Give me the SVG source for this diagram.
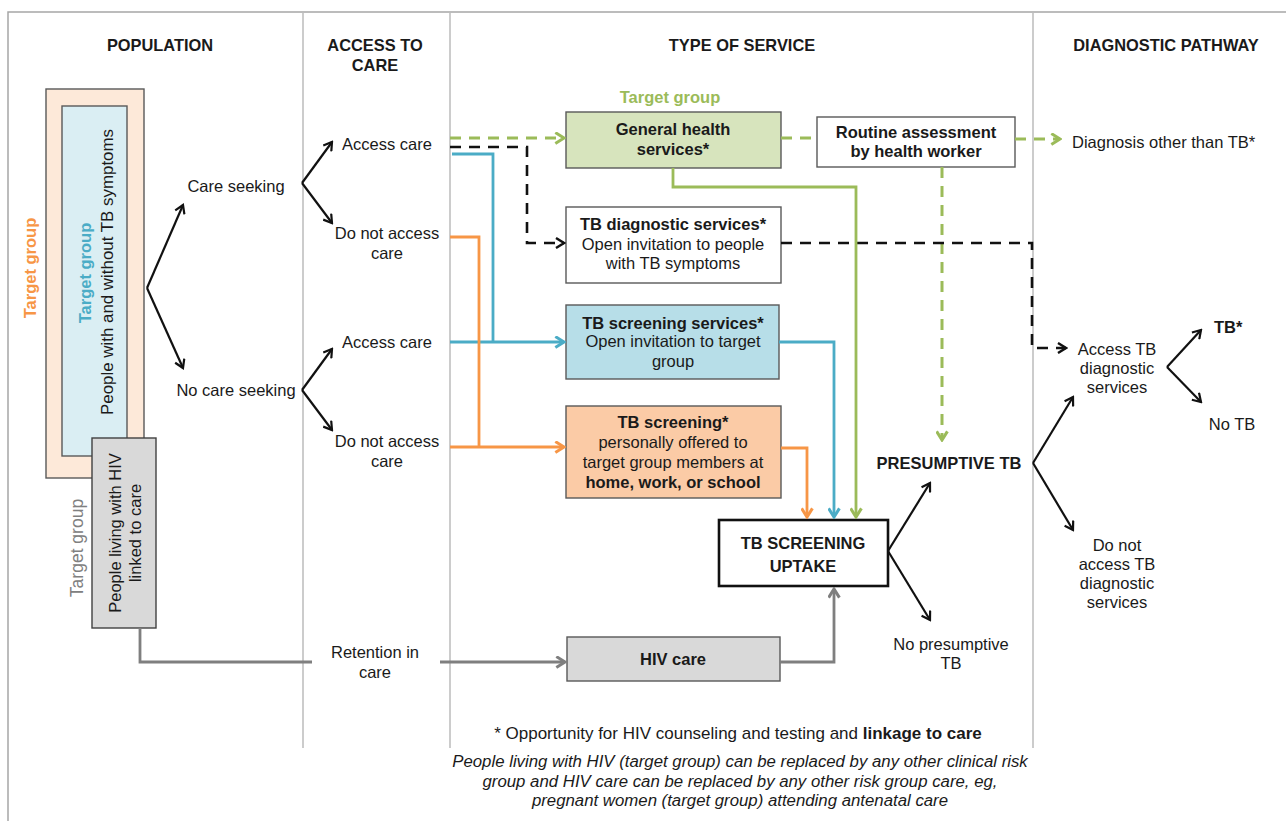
<svg xmlns="http://www.w3.org/2000/svg" width="1286" height="821" viewBox="0 0 1286 821">
<style>
text{font-family:"Liberation Sans",Arial,sans-serif;fill:#1a1a1a;font-size:16.5px}
.h{font-weight:bold;font-size:16.4px}
.c{text-anchor:middle}
.b{font-weight:bold}
.box{stroke:#595959;stroke-width:1.4}
.frame{fill:none;stroke:#a6a6a6;stroke-width:1.5}
.div{stroke:#cccccc;stroke-width:2;fill:none}
.k{fill:none;stroke:#111;stroke-width:2.2;marker-end:url(#mk)}
.kd{fill:none;stroke:#111;stroke-width:2.6;stroke-dasharray:11 8;marker-end:url(#mkd)}
.gd{fill:none;stroke:#9bbb59;stroke-width:3;stroke-dasharray:11 8}
.gs{fill:none;stroke:#9bbb59;stroke-width:2.8}
.bl{fill:none;stroke:#4bacc6;stroke-width:2.8}
.or{fill:none;stroke:#f79646;stroke-width:2.8}
.gy{fill:none;stroke:#7f7f7f;stroke-width:2.8}
.foot{font-size:17px}
.it{font-style:italic;font-size:16.8px}
</style>
<defs>
<marker id="mk" viewBox="0 0 12 12" refX="10" refY="6" markerWidth="12" markerHeight="12" orient="auto" markerUnits="userSpaceOnUse"><path d="M2,1 L10,6 L2,11" fill="none" stroke="#111" stroke-width="2.2"/></marker>
<marker id="mkd" viewBox="0 0 12 12" refX="10" refY="6" markerWidth="12" markerHeight="12" orient="auto" markerUnits="userSpaceOnUse"><path d="M2,1 L10,6 L2,11" fill="none" stroke="#111" stroke-width="2.4"/></marker>
<marker id="mg" viewBox="0 0 12 12" refX="10" refY="6" markerWidth="13" markerHeight="13" orient="auto" markerUnits="userSpaceOnUse"><path d="M2,1 L10,6 L2,11" fill="none" stroke="#9bbb59" stroke-width="2.8"/></marker>
<marker id="mb" viewBox="0 0 12 12" refX="10" refY="6" markerWidth="13" markerHeight="13" orient="auto" markerUnits="userSpaceOnUse"><path d="M2,1 L10,6 L2,11" fill="none" stroke="#4bacc6" stroke-width="2.8"/></marker>
<marker id="mo" viewBox="0 0 12 12" refX="10" refY="6" markerWidth="13" markerHeight="13" orient="auto" markerUnits="userSpaceOnUse"><path d="M2,1 L10,6 L2,11" fill="none" stroke="#f79646" stroke-width="2.8"/></marker>
<marker id="my" viewBox="0 0 12 12" refX="10" refY="6" markerWidth="13" markerHeight="13" orient="auto" markerUnits="userSpaceOnUse"><path d="M2,1 L10,6 L2,11" fill="none" stroke="#7f7f7f" stroke-width="2.8"/></marker>
</defs>
<rect width="1286" height="821" fill="#ffffff"/>
<g id="frame">
<path class="frame" d="M8,821 V12 H1286"/>
<path class="div" d="M303,13 V748 M450,13 V748 M1033,13 V748"/>
</g>
<g id="headers">
<text class="h c" x="160" y="51">POPULATION</text>
<text class="h c" x="375" y="51">ACCESS TO</text>
<text class="h c" x="375" y="71">CARE</text>
<text class="h c" x="742" y="51">TYPE OF SERVICE</text>
<text class="h c" x="1166" y="51">DIAGNOSTIC PATHWAY</text>
</g>
<g id="population-orange">
<rect x="46" y="89" width="98" height="389" fill="#fde9d9" class="box" stroke="#7f7f7f"/>
<text class="b c" x="36" y="268" style="fill:#f79646;font-size:16.5px" transform="rotate(-90 36 268)">Target group</text>
</g>
<g id="population-blue">
<rect x="62" y="106" width="65" height="350" fill="#daeef3" class="box"/>
<text class="b c" x="91" y="273" style="fill:#4bacc6;font-size:16.5px" transform="rotate(-90 91 273)">Target group</text>
<text class="c" x="113" y="272" style="font-size:16.9px" transform="rotate(-90 113 272)">People with and without TB symptoms</text>
</g>
<g id="population-hiv">
<rect x="92" y="438" width="64" height="190" fill="#d9d9d9" stroke="#404040" stroke-width="1.4"/>
<text class="c" x="121" y="533" style="font-size:16.5px" transform="rotate(-90 121 533)">People living with HIV</text>
<text class="c" x="141" y="533" style="font-size:16.5px" transform="rotate(-90 141 533)">linked to care</text>
<text class="c" x="83" y="548" style="fill:#808080;font-size:17.5px" transform="rotate(-90 83 548)">Target group</text>
</g>
<g id="care-seeking"><text class="c" x="236" y="192">Care seeking</text></g>
<g id="no-care-seeking"><text class="c" x="236" y="396">No care seeking</text></g>
<g id="access-care-1"><text class="c" x="387" y="150">Access care</text></g>
<g id="no-access-1"><text class="c" x="387" y="239">Do not access</text><text class="c" x="387" y="259">care</text></g>
<g id="access-care-2"><text class="c" x="387" y="348">Access care</text></g>
<g id="no-access-2"><text class="c" x="387" y="447">Do not access</text><text class="c" x="387" y="467">care</text></g>
<g id="retention"><text class="c" x="375" y="658">Retention in</text><text class="c" x="375" y="678">care</text></g>
<g id="general-health">
<text class="b c" x="670" y="103" style="fill:#9bbb59;font-weight:bold">Target group</text>
<rect x="566" y="112" width="215" height="56" fill="#d7e4bd" class="box"/>
<text class="b c" x="673" y="135">General health</text>
<text class="b c" x="673" y="155">services*</text>
</g>
<g id="routine">
<rect x="817" y="117" width="198" height="50" fill="#ffffff" class="box"/>
<text class="b c" x="916" y="138">Routine assessment</text>
<text class="b c" x="916" y="157">by health worker</text>
</g>
<g id="tb-diagnostic">
<rect x="566" y="207" width="215" height="76" fill="#ffffff" class="box"/>
<text class="b c" x="673" y="230">TB diagnostic services*</text>
<text class="c" x="673" y="250">Open invitation to people</text>
<text class="c" x="673" y="269">with TB symptoms</text>
</g>
<g id="tb-screening-services">
<rect x="566" y="305" width="213" height="74" fill="#b7dee8" class="box"/>
<text class="b c" x="673" y="329">TB screening services*</text>
<text class="c" x="673" y="347">Open invitation to target</text>
<text class="c" x="673" y="367">group</text>
</g>
<g id="tb-screening-personal">
<rect x="566" y="406" width="215" height="92" fill="#fbcba6" class="box"/>
<text class="b c" x="673" y="428">TB screening*</text>
<text class="c" x="673" y="448">personally offered to</text>
<text class="c" x="673" y="468">target group members at</text>
<text class="b c" x="673" y="488">home, work, or school</text>
</g>
<g id="uptake">
<rect x="719" y="520" width="169" height="66" fill="#ffffff" stroke="#111" stroke-width="2.6"/>
<text class="b c" x="803" y="549">TB SCREENING</text>
<text class="b c" x="803" y="572">UPTAKE</text>
</g>
<g id="hiv-care">
<rect x="567" y="637" width="213" height="44" fill="#d9d9d9" class="box"/>
<text class="b c" x="673" y="665">HIV care</text>
</g>
<g id="presumptive"><text class="b c" x="949" y="469">PRESUMPTIVE TB</text></g>
<g id="no-presumptive"><text class="c" x="951" y="650">No presumptive</text><text class="c" x="951" y="669">TB</text></g>
<g id="diag-other"><text x="1072" y="148">Diagnosis other than TB*</text></g>
<g id="access-tb"><text class="c" x="1117" y="355">Access TB</text><text class="c" x="1117" y="374">diagnostic</text><text class="c" x="1117" y="393">services</text></g>
<g id="tb"><text class="b" x="1214" y="333">TB*</text></g>
<g id="no-tb"><text class="c" x="1232" y="430">No TB</text></g>
<g id="no-access-tb"><text class="c" x="1117" y="551">Do not</text><text class="c" x="1117" y="570">access TB</text><text class="c" x="1117" y="589">diagnostic</text><text class="c" x="1117" y="608">services</text></g>
<g id="connectors">
<path class="k" d="M147,288 L183,205"/>
<path class="k" d="M147,288 L183,368"/>
<path class="k" d="M302,183 L332,142"/>
<path class="k" d="M302,183 L332,223"/>
<path class="k" d="M302,390 L332,349"/>
<path class="k" d="M302,390 L332,430"/>
<path class="k" d="M888,551 L930,483"/>
<path class="k" d="M888,551 L930,620"/>
<path class="k" d="M1033,463 L1073,397"/>
<path class="k" d="M1033,463 L1073,530"/>
<path class="k" d="M1167,367 L1201,330"/>
<path class="k" d="M1167,367 L1201,402"/>
<path class="gd" d="M450,138 H564" marker-end="url(#mg)"/>
<path class="gd" d="M781,138 H817"/>
<path class="gd" d="M1015,139 H1060" marker-end="url(#mg)"/>
<path class="gd" d="M942,167 V440" marker-end="url(#mg)"/>
<path class="kd" d="M450,147 H527 V243 H564"/>
<path class="kd" d="M781,243 H1032 V348 H1066"/>
<path class="gs" d="M673,168 V187 H856 V517" marker-end="url(#mg)"/>
<path class="bl" d="M452,154 H493 V342"/>
<path class="bl" d="M450,342 H564" marker-end="url(#mb)"/>
<path class="bl" d="M779,342 H834 V517" marker-end="url(#mb)"/>
<path class="or" d="M450,237 H479 V447"/>
<path class="or" d="M450,447 H564" marker-end="url(#mo)"/>
<path class="or" d="M781,448 H807 V517" marker-end="url(#mo)"/>
<path class="gy" d="M140,628 V662 H312"/>
<path class="gy" d="M440,662 H565" marker-end="url(#my)"/>
<path class="gy" d="M780,662 H834 V589" marker-end="url(#my)"/>
</g>
<g id="footnote">
<text class="c foot" x="738" y="739">* Opportunity for HIV counseling and testing and <tspan font-weight="bold">linkage to care</tspan></text>
<text class="c it" x="740" y="767">People living with HIV (target group) can be replaced by any other clinical risk</text>
<text class="c it" x="740" y="787">group and HIV care can be replaced by any other risk group care, eg,</text>
<text class="c it" x="740" y="806">pregnant women (target group) attending antenatal care</text>
</g>
</svg>
